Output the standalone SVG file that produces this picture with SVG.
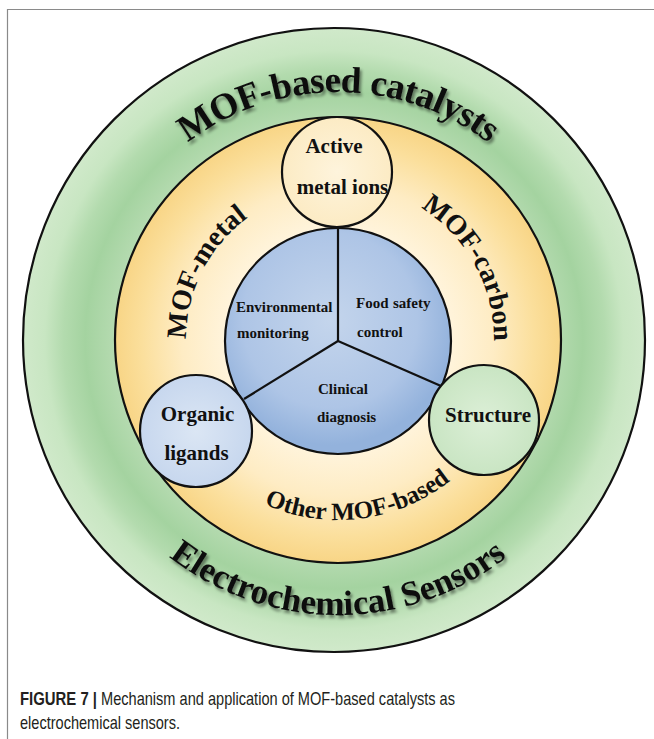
<svg xmlns="http://www.w3.org/2000/svg" xmlns:xlink="http://www.w3.org/1999/xlink" width="654" height="739" viewBox="0 0 654 739">
  <style>
    .ring { stroke: #111; stroke-width: 2.2; }
    .bold-serif { font-family: "Liberation Serif", "Times New Roman", serif; font-weight: bold; fill: #111; }
    .arc-top { font-size: 37px; letter-spacing: -0.6px; }
    .arc-big { font-size: 35px; }
    .arc-mid { font-size: 28px; }
    .arc-small { font-size: 25px; }
    .node-label { font-size: 21px; text-anchor: middle; }
    .core-label { font-size: 15px; }
    .divider { stroke: #111; stroke-width: 2.2; fill: none; }
    .caption { font-family: "Liberation Sans", Arial, sans-serif; font-size: 18.5px; fill: #231f20; }
    .frame { stroke: #8a8a8a; stroke-width: 1.2; fill: none; }
  </style>
  <defs>
    <radialGradient id="gradGreen" gradientUnits="userSpaceOnUse" cx="334" cy="340" r="311">
      <stop offset="0.70" stop-color="#b6dbb1"/>
      <stop offset="0.80" stop-color="#a4d3a0"/>
      <stop offset="0.87" stop-color="#b3dbae"/>
      <stop offset="0.93" stop-color="#c8e6c2"/>
      <stop offset="1" stop-color="#d0e9ca"/>
    </radialGradient>
    <radialGradient id="gradYellow" gradientUnits="userSpaceOnUse" cx="338" cy="340" r="223">
      <stop offset="0.5" stop-color="#fff4dc"/>
      <stop offset="0.7" stop-color="#feecc4"/>
      <stop offset="0.88" stop-color="#fbdf9c"/>
      <stop offset="1" stop-color="#f8d586"/>
    </radialGradient>
    <radialGradient id="gradBlue" gradientUnits="userSpaceOnUse" cx="330" cy="320" r="125">
      <stop offset="0" stop-color="#c4d5ec"/>
      <stop offset="0.7" stop-color="#aec5e6"/>
      <stop offset="1" stop-color="#93b2dc"/>
    </radialGradient>
    <radialGradient id="gradCream" cx="0.5" cy="0.5" r="0.5">
      <stop offset="0" stop-color="#fef4dc"/>
      <stop offset="1" stop-color="#fcebc4"/>
    </radialGradient>
    <radialGradient id="gradPaleBlue" cx="0.5" cy="0.5" r="0.5">
      <stop offset="0" stop-color="#dbe6f4"/>
      <stop offset="1" stop-color="#c7d7ee"/>
    </radialGradient>
    <radialGradient id="gradPaleGreen" cx="0.5" cy="0.5" r="0.5">
      <stop offset="0" stop-color="#dcefd7"/>
      <stop offset="1" stop-color="#c9e5c3"/>
    </radialGradient>
    <filter id="textShadow" x="-10%" y="-10%" width="120%" height="130%">
      <feDropShadow dx="2" dy="3" stdDeviation="1.6" flood-color="#000" flood-opacity="0.45"/>
    </filter>
    <!-- baselines for the curved labels -->
    <path id="arcTop" d="M 90 340 A 248 248 0 0 1 586 340"/>
    <path id="arcBottom" d="M 63 340 A 275 275 0 0 0 613 340"/>
    <path id="arcLeft" d="M 338 492 A 152 152 0 0 1 338 188"/>
    <path id="arcRight" d="M 338 184 A 156 156 0 0 1 338 496"/>
    <path id="arcLower" d="M 158 340 A 180 180 0 0 0 518 340"/>
  </defs>

  <rect width="654" height="739" fill="#fff"/>
  <!-- figure frame -->
  <path class="frame" d="M 7.5 739 V 9.5 H 654"/>

  <!-- outer ring: catalysts / sensors -->
  <g id="outer-ring">
    <ellipse class="ring" cx="334" cy="340" rx="311" ry="312" fill="url(#gradGreen)"/>
    <text class="bold-serif arc-top" filter="url(#textShadow)"><textPath xlink:href="#arcTop" startOffset="50%" text-anchor="middle">MOF-based catalysts</textPath></text>
    <text class="bold-serif arc-big" filter="url(#textShadow)"><textPath xlink:href="#arcBottom" startOffset="50%" text-anchor="middle">Electrochemical Sensors</textPath></text>
  </g>

  <!-- middle ring: material classes -->
  <g id="middle-ring">
    <circle class="ring" cx="338" cy="340" r="223" fill="url(#gradYellow)"/>
    <text class="bold-serif arc-mid"><textPath xlink:href="#arcLeft" startOffset="65%" text-anchor="middle">MOF-metal</textPath></text>
    <text class="bold-serif arc-mid"><textPath xlink:href="#arcRight" startOffset="34%" text-anchor="middle">MOF-carbon</textPath></text>
    <text class="bold-serif arc-small"><textPath xlink:href="#arcLower" startOffset="54%" text-anchor="middle">Other MOF-based</textPath></text>
  </g>

  <!-- core: application fields -->
  <g id="core">
    <circle class="ring" cx="338" cy="341" r="113" fill="url(#gradBlue)"/>
    <text class="bold-serif core-label" x="236" y="311.5">Environmental</text>
    <text class="bold-serif core-label" x="237" y="337.5">monitoring</text>
    <text class="bold-serif core-label" y="308"><tspan x="356">Food</tspan><tspan x="393">safety</tspan></text>
    <text class="bold-serif core-label" x="357" y="336.5">control</text>
    <text class="bold-serif core-label" x="318" y="394">Clinical</text>
    <text class="bold-serif core-label" x="317" y="421.5">diagnosis</text>
  </g>

  <!-- sector dividers of the core -->
  <g id="connectors">
    <line class="divider" x1="338" y1="341" x2="338" y2="228"/>
    <line class="divider" x1="338" y1="341" x2="244" y2="399"/>
    <line class="divider" x1="338" y1="341" x2="441" y2="386"/>
  </g>

  <!-- building blocks -->
  <g id="node-active-metal-ions">
    <circle class="ring" cx="337" cy="172" r="55" fill="url(#gradCream)"/>
    <text class="bold-serif node-label" x="334" y="153">Active</text>
    <text class="bold-serif node-label" x="342.5" y="193.5">metal ions</text>
  </g>
  <g id="node-organic-ligands">
    <circle class="ring" cx="196" cy="431" r="56" fill="url(#gradPaleBlue)"/>
    <text class="bold-serif node-label" x="197.5" y="421">Organic</text>
    <text class="bold-serif node-label" x="196.5" y="459.5">ligands</text>
  </g>
  <g id="node-structure">
    <circle class="ring" cx="484" cy="420" r="55" fill="url(#gradPaleGreen)"/>
    <text class="bold-serif node-label" x="488" y="421.5">Structure</text>
  </g>

  <!-- caption -->
  <g id="caption">
    <text class="caption" x="20" y="705" font-weight="bold" textLength="77" lengthAdjust="spacingAndGlyphs">FIGURE 7 |</text>
    <text class="caption" x="101" y="705" textLength="354" lengthAdjust="spacingAndGlyphs">Mechanism and application of MOF-based catalysts as</text>
    <text class="caption" x="20" y="729" textLength="160" lengthAdjust="spacingAndGlyphs">electrochemical sensors.</text>
  </g>
</svg>
